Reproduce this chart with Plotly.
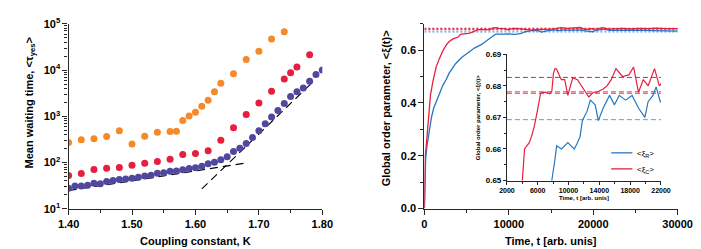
import plotly.graph_objects as go

# ---------------- Left panel data ----------------
K_orange = [1.40, 1.42, 1.44, 1.46, 1.48, 1.50, 1.52, 1.54, 1.56, 1.57, 1.58, 1.59, 1.60,
            1.61, 1.62, 1.63, 1.64, 1.66, 1.68, 1.70, 1.72, 1.74]
tau_orange = [272, 313, 328, 366, 485, 251, 372, 450, 471, 478, 815, 1015, 1225,
              1645, 2220, 3390, 5180, 8350, 17000, 25600, 47100, 67600]

K_red = [1.40, 1.42, 1.44, 1.46, 1.48, 1.50, 1.52, 1.54, 1.56, 1.58, 1.60, 1.62, 1.64,
         1.66, 1.68, 1.70, 1.72, 1.74, 1.75, 1.76, 1.78]
tau_red = [52.5, 58, 71, 75, 78, 88, 97, 105, 118, 150, 157, 181, 303,
           569, 1100, 1930, 3490, 6450, 8700, 11700, 21500]

K_purple = [1.40, 1.41, 1.42, 1.43, 1.44, 1.45, 1.46, 1.47, 1.48, 1.49, 1.50, 1.51, 1.52,
            1.53, 1.54, 1.55, 1.56, 1.57, 1.58, 1.59, 1.60, 1.61, 1.62, 1.63, 1.64, 1.65,
            1.66, 1.67, 1.68, 1.69, 1.70, 1.71, 1.72, 1.73, 1.74, 1.75, 1.76, 1.77, 1.78,
            1.79, 1.80]
tau_purple = [28, 31, 31.3, 32.4, 35.5, 35, 39, 41, 43, 44, 45.6, 48, 51,
              53, 58.5, 60, 64.5, 65.5, 70, 74, 77.6, 83, 94, 101, 115, 134,
              174, 204, 258, 349, 485, 687, 965, 1330, 1900, 2690, 3390, 4100, 5750,
              8000, 10000]

K_fit1 = [1.40, 1.68]
tau_fit1 = [24.8, 98]
K_fit2 = [1.61, 1.785]
tau_fit2 = [27, 5500]

x_left_ticks = [1.40, 1.50, 1.60, 1.70, 1.80]
x_left_text = ["1.40", "1.50", "1.60", "1.70", "1.80"]
y_left_ticks = [10, 100, 1000, 10000, 100000]
y_left_text = ["10<sup>1</sup>", "10<sup>2</sup>", "10<sup>3</sup>", "10<sup>4</sup>", "10<sup>5</sup>"]

# ---------------- Right panel data ----------------
t_C = [0, 30, 60, 100, 200, 350, 500, 720, 1000, 1400, 1800, 2170, 2600, 2930, 3400, 3880,
       4000, 4290, 4600, 4900, 5200, 5540, 5950, 6370, 7000, 7500, 7830, 8040, 8250, 8460,
       8870, 9080, 9500, 9910, 10130, 10540, 11160, 12000, 12630, 13200, 13660, 14500,
       15000, 15540, 16160, 17000, 17830, 18450, 19080, 19700, 20330, 21160, 21790, 22500,
       23500, 24500, 25500, 26500, 27500, 28500, 29500, 30000]
xi_C = [0, 0.10, 0.16, 0.20, 0.23, 0.29, 0.35, 0.43, 0.48, 0.537, 0.57, 0.597, 0.62, 0.633,
        0.643, 0.649, 0.650, 0.660, 0.661, 0.662, 0.664, 0.667, 0.672, 0.6777, 0.678, 0.6775,
        0.6783, 0.684, 0.6855, 0.6853, 0.683, 0.682, 0.682, 0.677, 0.679, 0.6825, 0.682,
        0.679, 0.6765, 0.678, 0.678, 0.679, 0.680, 0.682, 0.6855, 0.683, 0.6835, 0.686,
        0.678, 0.682, 0.680, 0.6855, 0.680, 0.682, 0.683, 0.681, 0.683, 0.682, 0.684,
        0.682, 0.683, 0.682]

t_R = [0, 30, 60, 150, 300, 460, 650, 840, 1100, 1400, 1800, 2170, 2600, 2930, 3300, 3690,
       4450, 5200, 5970, 6730, 7490, 7830, 8250, 8460, 9080, 9500, 9910, 10330, 10740,
       11160, 11500, 11790, 12410, 12830, 13460, 13870, 14500, 15330, 15960, 16580, 17410,
       18250, 19080, 19910, 20330, 20960, 21370, 21910, 22500, 23500, 24500, 25500, 26500,
       27500, 28500, 29500, 30000]
xi_R = [0, 0.07, 0.12, 0.19, 0.235, 0.274, 0.31, 0.346, 0.38, 0.405, 0.44, 0.466, 0.49,
        0.513, 0.53, 0.549, 0.573, 0.591, 0.609, 0.621, 0.640, 0.650, 0.657, 0.661, 0.660,
        0.661, 0.662, 0.661, 0.660, 0.662, 0.664, 0.669, 0.672, 0.6755, 0.674, 0.669,
        0.673, 0.677, 0.674, 0.677, 0.6755, 0.677, 0.673, 0.670, 0.675, 0.677, 0.6797,
        0.675, 0.676, 0.675, 0.676, 0.675, 0.674, 0.675, 0.674, 0.673, 0.672]

levels_C = [0.6827, 0.6781]
levels_R = [0.6776, 0.6693]

x_right_ticks = [0, 10000, 20000, 30000]
x_right_text = ["0", "10000", "20000", "30000"]
y_right_ticks = [0.0, 0.2, 0.4, 0.6]
y_right_text = ["0.0", "0.2", "0.4", "0.6"]
x_inset_ticks = [2000, 6000, 10000, 14000, 18000, 22000]
x_inset_text = ["2000", "6000", "10000", "14000", "18000", "22000"]
y_inset_ticks = [0.65, 0.66, 0.67, 0.68, 0.69]
y_inset_text = ["0.65", "0.66", "0.67", "0.68", "0.69"]

ORANGE = "#F58A2B"
RED = "#E61E3F"
PURPLE = "#4F489E"
BLUE = "#2477C0"
LBLUE = "#4BA3DC"
AX = "#262626"
FONT = "Liberation Sans, Arial, sans-serif"

W, H = 701, 249
def px(x):
    return x / W
def py(y):
    return 1 - y / H

fig = go.Figure()

# left panel
mk = dict(size=7, line=dict(width=0))
fig.add_trace(go.Scatter(x=K_fit1, y=tau_fit1, mode="lines", line=dict(color="black", width=1.1, dash="8px,5px"),
                         xaxis="x", yaxis="y", showlegend=False))
fig.add_trace(go.Scatter(x=K_fit2, y=tau_fit2, mode="lines", line=dict(color="black", width=1.1, dash="8px,5px"),
                         xaxis="x", yaxis="y", showlegend=False))
fig.add_trace(go.Scatter(x=K_orange, y=tau_orange, mode="markers", marker=dict(color=ORANGE, **mk),
                         xaxis="x", yaxis="y", showlegend=False))
fig.add_trace(go.Scatter(x=K_red, y=tau_red, mode="markers", marker=dict(color=RED, **mk),
                         xaxis="x", yaxis="y", showlegend=False))
fig.add_trace(go.Scatter(x=K_purple, y=tau_purple, mode="markers", marker=dict(color=PURPLE, **mk),
                         xaxis="x", yaxis="y", showlegend=False))

# right panel main
for lv in levels_C:
    fig.add_trace(go.Scatter(x=[0, 30000], y=[lv, lv], mode="lines", line=dict(color=RED, width=1.2, dash="2px,2px"),
                             xaxis="x2", yaxis="y2", showlegend=False))
for lv in levels_R:
    fig.add_trace(go.Scatter(x=[0, 30000], y=[lv, lv], mode="lines", line=dict(color=LBLUE, width=1.2, dash="2px,2px"),
                             xaxis="x2", yaxis="y2", showlegend=False))
fig.add_trace(go.Scatter(x=t_R, y=xi_R, mode="lines", line=dict(color=BLUE, width=1.3),
                         xaxis="x2", yaxis="y2", showlegend=False))
fig.add_trace(go.Scatter(x=t_C, y=xi_C, mode="lines", line=dict(color=RED, width=1.3),
                         xaxis="x2", yaxis="y2", showlegend=False))

# inset
for lv in levels_C:
    fig.add_trace(go.Scatter(x=[2000, 22000], y=[lv, lv], mode="lines", line=dict(color=RED, width=1, dash="5px,3px"),
                             xaxis="x3", yaxis="y3", showlegend=False))
for lv in levels_R:
    fig.add_trace(go.Scatter(x=[2000, 22000], y=[lv, lv], mode="lines", line=dict(color=LBLUE, width=1, dash="5px,3px"),
                             xaxis="x3", yaxis="y3", showlegend=False))
fig.add_trace(go.Scatter(x=t_R, y=xi_R, mode="lines", line=dict(color=BLUE, width=1.2),
                         xaxis="x3", yaxis="y3", showlegend=False))
fig.add_trace(go.Scatter(x=t_C, y=xi_C, mode="lines", line=dict(color=RED, width=1.2),
                         xaxis="x3", yaxis="y3", showlegend=False))

# domains
L_x = [px(51.5), px(315)]
L_y = [py(204.3), py(8.3)]
R_x = [px(421), px(684)]
R_y = [py(204), py(8.3)]
I_x = [px(506.7), px(666.7)]
I_y = [py(174.3), py(40.7)]

tf = dict(family=FONT, size=11, color="black", weight="bold")
tf_ix = dict(family=FONT, size=7, color="black", weight="bold")
tf_iy = dict(family=FONT, size=8, color="black", weight="bold")
base = dict(showgrid=False, zeroline=False, showline=True, linecolor=AX, linewidth=1.2,
            ticks="outside", tickcolor=AX, tickwidth=1, ticklen=5)
mirror = dict(showticklabels=False, showgrid=False, zeroline=False, showline=True, linecolor=AX,
              linewidth=1.2, ticks="inside", tickcolor=AX, ticklen=5)

fig.update_layout(
    width=W, height=H, margin=dict(l=0, r=0, t=0, b=0),
    paper_bgcolor="white", plot_bgcolor="white",
    font=dict(family=FONT, color="black"),
    xaxis=dict(domain=L_x, anchor="y", range=[1.40, 1.80], tickvals=x_left_ticks, ticktext=x_left_text,
               tickfont=tf, minor=dict(dtick=0.05, ticks="outside", ticklen=3, tickcolor=AX), **base),
    yaxis=dict(domain=L_y, anchor="x", type="log", range=[1, 5], tickvals=y_left_ticks, ticktext=y_left_text,
               tickfont=tf, minor=dict(dtick="D1", ticks="outside", ticklen=3, tickcolor=AX), **base),
    xaxis4=dict(domain=L_x, anchor="y", overlaying="x", side="top", range=[1.40, 1.80], tickvals=x_left_ticks,
                minor=dict(dtick=0.05, ticks="inside", ticklen=3, tickcolor=AX), **mirror),
    yaxis4=dict(domain=L_y, anchor="x", overlaying="y", side="right", type="log", range=[1, 5],
                tickvals=y_left_ticks,
                minor=dict(dtick="D1", ticks="inside", ticklen=3, tickcolor=AX), **mirror),

    xaxis2=dict(domain=R_x, anchor="y2", range=[0, 30000], tickvals=x_right_ticks, ticktext=x_right_text,
                tickfont=tf, minor=dict(dtick=5000, ticks="outside", ticklen=3, tickcolor=AX), **base),
    yaxis2=dict(domain=R_y, anchor="x2", range=[0, 0.70], tickvals=y_right_ticks, ticktext=y_right_text,
                tickfont=tf, minor=dict(dtick=0.1, ticks="outside", ticklen=3, tickcolor=AX), **base),
    xaxis5=dict(domain=R_x, anchor="y2", overlaying="x2", side="top", range=[0, 30000], tickvals=x_right_ticks,
                minor=dict(dtick=5000, ticks="inside", ticklen=3, tickcolor=AX), **mirror),
    yaxis5=dict(domain=R_y, anchor="x2", overlaying="y2", side="right", range=[0, 0.70], tickvals=y_right_ticks,
                minor=dict(dtick=0.1, ticks="inside", ticklen=3, tickcolor=AX), **mirror),

    xaxis3=dict(domain=I_x, anchor="y3", range=[2000, 22000], tickvals=x_inset_ticks, ticktext=x_inset_text,
                showgrid=False, zeroline=False, showline=True, linecolor=AX, linewidth=1,
                ticks="outside", tickcolor=AX, ticklen=3, tickfont=tf_ix,
                minor=dict(dtick=2000, ticks="outside", ticklen=2, tickcolor=AX)),
    yaxis3=dict(domain=I_y, anchor="x3", range=[0.65, 0.69], tickvals=y_inset_ticks, ticktext=y_inset_text,
                showgrid=False, zeroline=False, showline=True, linecolor=AX, linewidth=1,
                ticks="outside", tickcolor=AX, ticklen=3, tickfont=tf_iy,
                minor=dict(dtick=0.005, ticks="outside", ticklen=2, tickcolor=AX)),
    xaxis6=dict(domain=I_x, anchor="y3", overlaying="x3", side="top", range=[2000, 22000], showticklabels=False,
                showgrid=False, zeroline=False, showline=True, linecolor=AX, linewidth=1,
                ticks="inside", tickvals=x_inset_ticks, ticklen=3, tickcolor=AX,
                minor=dict(dtick=2000, ticks="inside", ticklen=2, tickcolor=AX)),
    yaxis6=dict(domain=I_y, anchor="x3", overlaying="y3", side="right", range=[0.65, 0.69], showticklabels=False,
                showgrid=False, zeroline=False, showline=True, linecolor=AX, linewidth=1,
                ticks="inside", tickvals=y_inset_ticks, ticklen=3, tickcolor=AX,
                minor=dict(dtick=0.005, ticks="inside", ticklen=2, tickcolor=AX)),
)

# inset legend (line samples)
fig.add_shape(type="line", xref="paper", yref="paper", x0=px(615), x1=px(637), y0=py(145), y1=py(145),
              line=dict(color=BLUE, width=1.3))
fig.add_shape(type="line", xref="paper", yref="paper", x0=px(615), x1=px(637), y0=py(162), y1=py(162),
              line=dict(color=RED, width=1.3))

ann = [
    dict(text="<b>Mean waiting time, &lt;τ<sub>yes</sub>&gt;</b>", x=px(11), y=py(92), textangle=-90, size=11),
    dict(text="<b>Coupling constant, K</b>", x=px(183), y=py(238), textangle=0, size=11),
    dict(text="<b>Global order parameter, &lt;ξ(t)&gt;</b>", x=px(382), y=py(98), textangle=-90, size=11),
    dict(text="<b>Time, t [arb. unis]</b>", x=px(552), y=py(238), textangle=0, size=11),
    dict(text="<b>Time, t [arb. unis]</b>", x=px(586.7), y=py(192.7), textangle=0, size=6),
    dict(text="<b>Global order parameter, &lt;ξ(t)&gt;</b>", x=px(477.5), y=py(107.5), textangle=-90, size=6),
    dict(text="&lt;ξ<sub>R</sub>&gt;", x=px(640), y=py(146), textangle=0, size=8, xanchor="left"),
    dict(text="&lt;ξ<sub>C</sub>&gt;", x=px(640), y=py(163), textangle=0, size=8, xanchor="left"),
]
for a in ann:
    fig.add_annotation(text=a["text"], x=a["x"], y=a["y"], xref="paper", yref="paper", showarrow=False,
                       textangle=a["textangle"], xanchor=a.get("xanchor", "center"), yanchor="middle",
                       font=dict(family=FONT, size=a["size"], color="black"))

fig.write_html("out.html")
